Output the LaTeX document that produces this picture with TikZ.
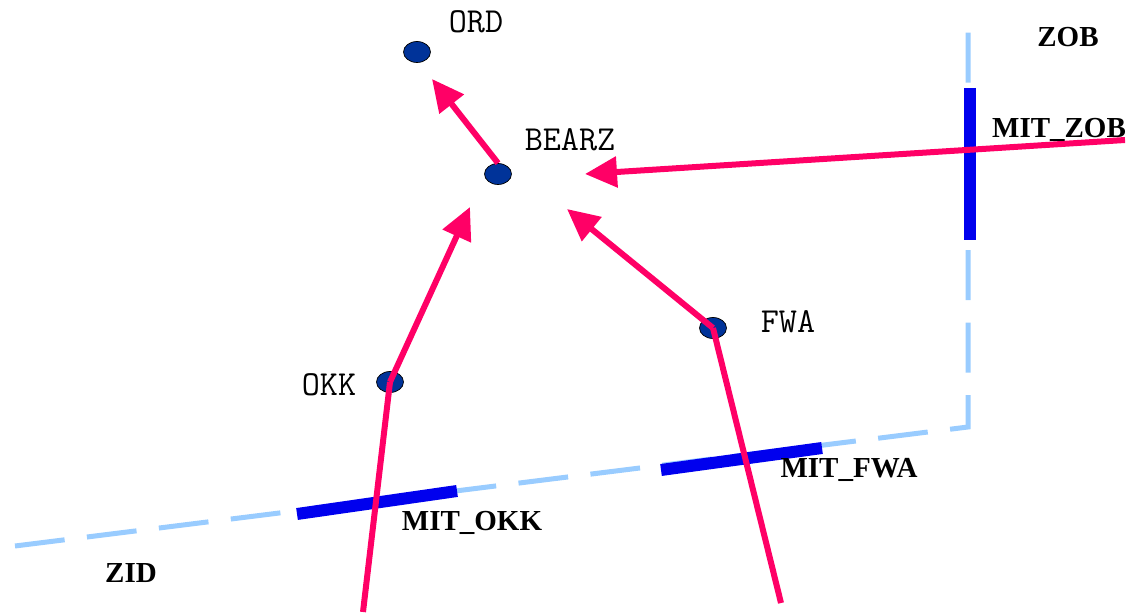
\documentclass[tikz,border=0pt]{standalone}
\usepackage{fontspec}
\setmainfont{Liberation Serif}
\usetikzlibrary{arrows.meta,shapes.geometric}
\definecolor{pinkline}{RGB}{255,0,102}
\definecolor{dotblue}{RGB}{0,51,153}
\definecolor{barblue}{RGB}{0,0,238}
\definecolor{dashblue}{RGB}{153,204,255}
\tikzset{
  x=0.02cm, y=-0.02cm,
  station/.style={ellipse, draw=black, line width=0.4pt, fill=dotblue, minimum width=0.54cm, minimum height=0.42cm, inner sep=0pt},
  citylbl/.style={font=\ttfamily\fontsize{20}{22}\selectfont, inner sep=0pt},
  sectorlbl/.style={font=\bfseries\fontsize{16.5}{19}\selectfont, inner sep=0pt},
  route/.style={draw=pinkline, line width=0.12cm},
  routearrow/.style={route, -{Triangle[length=0.64cm, width=0.6cm]}},
  fixbar/.style={draw=barblue, line width=0.24cm},
  boundary/.style={draw=dashblue, line width=0.1cm, dash pattern=on 1cm off 0.45cm},
}
\begin{document}
\begin{tikzpicture}
\useasboundingbox (0,0) rectangle (1131,614);
% boundary
\coordinate (bw) at (15,546);
\coordinate (bc) at (968,427);
\coordinate (bn) at (968,20);
\draw[boundary] (bw) -- (bc) -- (bn);
% fix bars
\coordinate (zob1) at (970,88); \coordinate (zob2) at (970,240);
\coordinate (okk1) at (297,514); \coordinate (okk2) at (457,491);
\coordinate (fwa1) at (661,470); \coordinate (fwa2) at (822,448);
\draw[fixbar] (zob1) -- (zob2);
\draw[fixbar] (okk1) -- (okk2);
\draw[fixbar] (fwa1) -- (fwa2);
% stations
\node[station] (ORD) at (417,52) {};
\node[station] (BEARZ) at (498,174) {};
\node[station] (FWA) at (713,328) {};
\node[station] (OKK) at (390,382) {};
% route ends and tips
\coordinate (zobin) at (1125,140);
\coordinate (tipz) at (585,174);
\coordinate (tipf) at (567,209);
\coordinate (tipo) at (470,207);
\coordinate (tipord) at (432,79);
\coordinate (okkin) at (363,612);
\coordinate (fwain) at (781,603);
\draw[route] (okkin) -- (OKK.center);
\draw[route] (fwain) -- (FWA.center);
\draw[routearrow] (zobin) -- (tipz);
\draw[routearrow] (FWA.center) -- (tipf);
\draw[routearrow] (OKK.center) -- (tipo);
\draw[routearrow] (BEARZ.north) -- (tipord);
% labels
\node[citylbl] (lORD) at (476,22) {ORD};
\node[citylbl] (lBEARZ) at (570,140) {BEARZ};
\node[citylbl] (lFWA) at (788,322) {FWA};
\node[citylbl] (lOKK) at (329,385) {OKK};
\node[sectorlbl] (lZOB) at (1068,37) {ZOB};
\node[sectorlbl] (lMZOB) at (1059,130) {MIT\_ZOB};
\node[sectorlbl] (lMFWA) at (849,470) {MIT\_FWA};
\node[sectorlbl] (lMOKK) at (472,523) {MIT\_OKK};
\node[sectorlbl] (lZID) at (131,573) {ZID};
\end{tikzpicture}
\end{document}
